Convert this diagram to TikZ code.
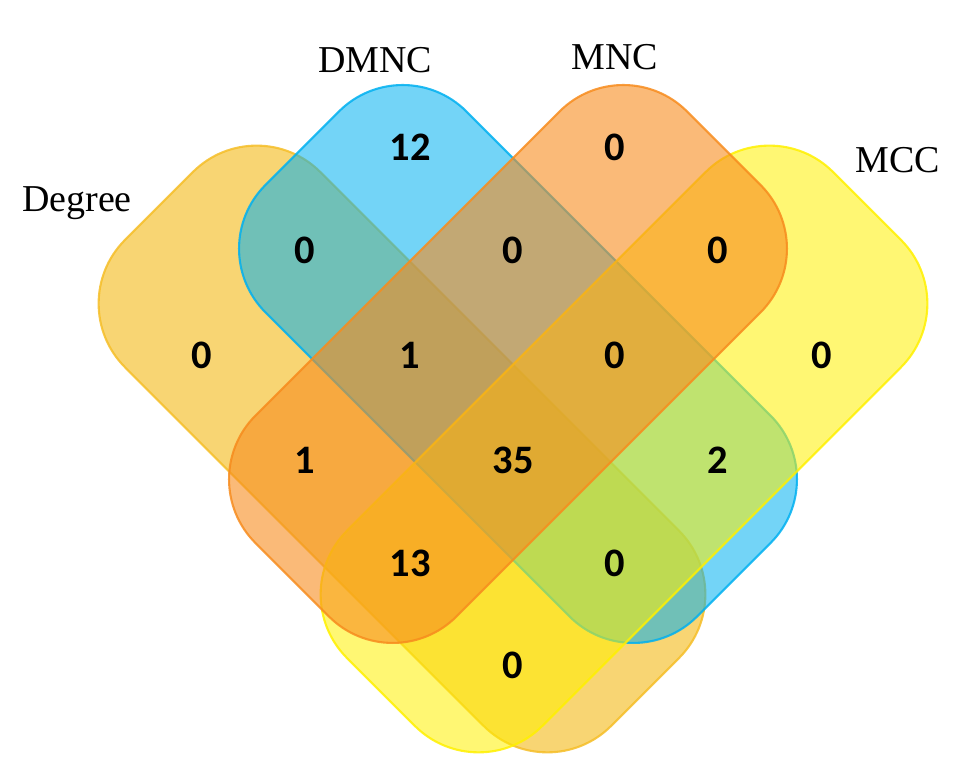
\documentclass[tikz,border=0pt]{standalone}
\usepackage{fontspec}
\setmainfont{Liberation Serif}
\newfontfamily\numfont{Carlito}
\usepackage{tikz}
\definecolor{degreecol}{RGB}{245,190,40}
\definecolor{dmnccol}{RGB}{0,176,240}
\definecolor{mnccol}{RGB}{247,140,30}
\definecolor{mcccol}{RGB}{255,240,0}
\tikzset{
	venn/.style={rectangle, rounded corners=0.9cm, inner sep=0pt, line width=0.6pt, draw opacity=0.85},
	setname/.style={font=\fontsize{10.8}{13}\selectfont},
	count/.style={font=\numfont\bfseries\fontsize{11.5}{14}\selectfont}
}

\begin{document}
\begin{tikzpicture}[x=0.01cm, y=-0.01cm]
\useasboundingbox (0,0) rectangle (969,774);

\node[venn, fill=degreecol, fill opacity=0.65, draw=degreecol, minimum width=6.87cm, minimum height=2.76cm, rotate=-45] (degree) at (402,449) {};
\node[venn, fill=dmnccol, fill opacity=0.55, draw=dmnccol, minimum width=6.10cm, minimum height=2.84cm, rotate=-45] (dmnc) at (518,364) {};
\node[venn, fill=mcccol, fill opacity=0.55, draw=mcccol, minimum width=6.87cm, minimum height=2.76cm, rotate=45] (mcc) at (624,449) {};
\node[venn, fill=mnccol, fill opacity=0.6, draw=mnccol, minimum width=6.10cm, minimum height=2.84cm, rotate=45] (mnc) at (508,364) {};

\node[setname] (degreename) at (77,203) {Degree};
\node[setname] (dmncname) at (375,60) {DMNC};
\node[setname] (mncname) at (615,57) {MNC};
\node[setname] (mccname) at (898,160) {MCC};

\node[count] (dmnconly) at (410,147) {12};
\node[count] (mnconly) at (615,147) {0};
\node[count] (degdmnc) at (305,250) {0};
\node[count] (dmncmnc) at (513,250) {0};
\node[count] (mncmcc) at (718,250) {0};
\node[count] (degonly) at (202,355) {0};
\node[count] (degdmncmnc) at (410,355) {1};
\node[count] (dmncmncmcc) at (615,355) {0};
\node[count] (mcconly) at (822,355) {0};
\node[count] (degmnc) at (305,460) {1};
\node[count] (allfour) at (513,460) {35};
\node[count] (dmncmcc) at (718,460) {2};
\node[count] (degmncmcc) at (410,563) {13};
\node[count] (degdmncmcc) at (615,563) {0};
\node[count] (degmcc) at (513,665) {0};
\end{tikzpicture}
\end{document}
